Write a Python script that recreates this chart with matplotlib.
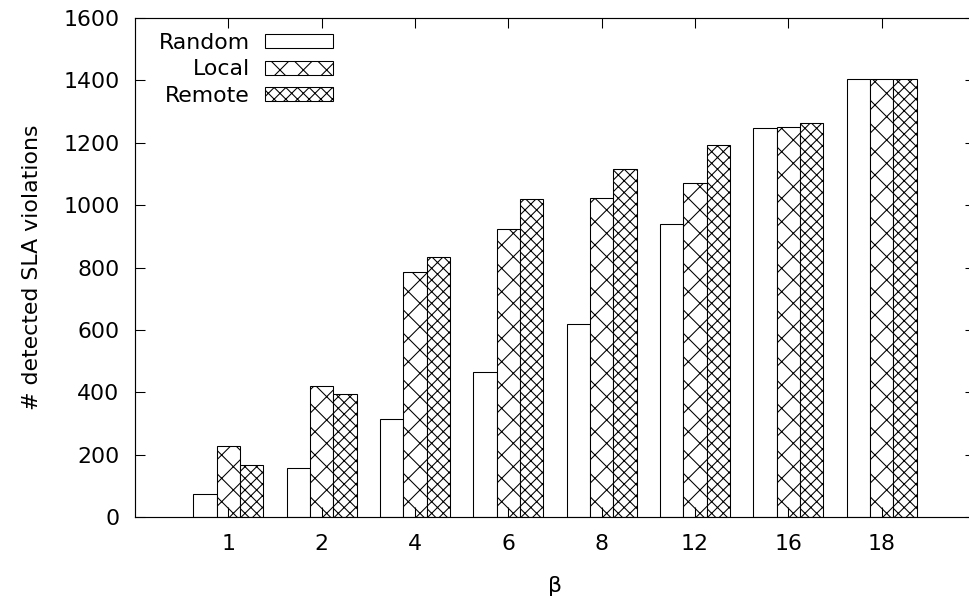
import matplotlib
matplotlib.use("Agg")
import matplotlib.pyplot as plt
import numpy as np

categories = ["1", "2", "4", "6", "8", "12", "16", "18"]
random_vals = [74, 157, 315, 466, 620, 939, 1246, 1406]
local_vals = [228, 421, 785, 924, 1024, 1072, 1250, 1406]
remote_vals = [168, 395, 834, 1021, 1115, 1194, 1262, 1406]

DPI = 140
plt.rcParams['font.family'] = ['DejaVu Sans']
plt.rcParams['hatch.linewidth'] = 0.55
plt.rcParams['hatch.color'] = 'black'

fig = plt.figure(figsize=(969 / DPI, 597 / DPI), dpi=DPI)
ax = fig.add_axes([135 / 969, 1 - 517 / 597, 840 / 969, 499 / 597])

x = np.arange(len(categories))
w = 0.25
lw = 0.55
ax.bar(x - w, random_vals, w, facecolor='white', edgecolor='black', linewidth=lw, label='Random')
ax.bar(x, local_vals, w, facecolor='white', edgecolor='black', linewidth=lw, hatch='xx', label='Local')
ax.bar(x + w, remote_vals, w, facecolor='white', edgecolor='black', linewidth=lw, hatch='xxxx', label='Remote')

ax.set_xlim(-1, 8)
ax.set_ylim(0, 1600)
ax.set_yticks(np.arange(0, 1601, 200))
ax.set_xticks(x)
ax.set_xticklabels(categories)
ax.tick_params(axis='both', direction='in', length=5, width=0.55, labelsize=11.3,
               top=True, right=True, pad=8)
ax.tick_params(axis='x', pad=9)
for s in ax.spines.values():
    s.set_linewidth(0.6)

ax.set_ylabel('# detected SLA violations', fontsize=11.3, labelpad=11)
ax.set_xlabel('β', fontsize=11.3, labelpad=11)

leg = ax.legend(loc='upper left', bbox_to_anchor=(0.006, 1.008), frameon=False,
                markerfirst=False, fontsize=11.3, handlelength=3.1, handleheight=0.6,
                labelspacing=0.3, handletextpad=0.7, borderaxespad=0.45)

fig.savefig('out.png', dpi=DPI)
